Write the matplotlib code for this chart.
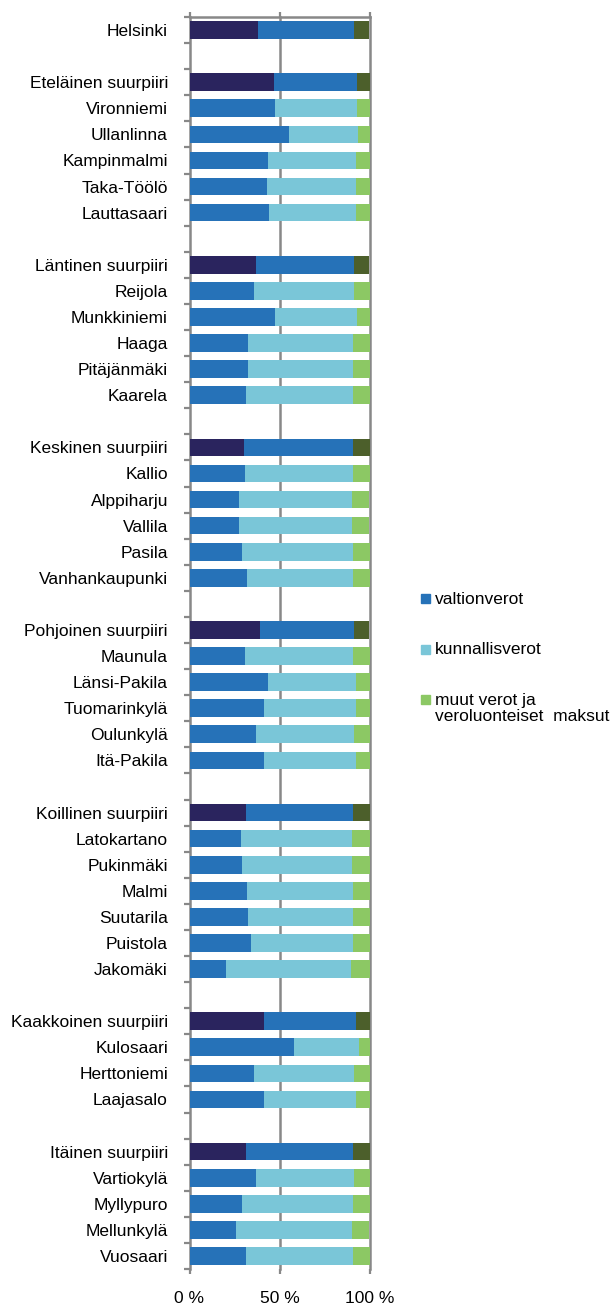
import matplotlib.pyplot as plt
from matplotlib.patches import Rectangle

# Rows from top to bottom; None marks the empty slot between districts
names = [
    "Helsinki", None,
    "Eteläinen suurpiiri", "Vironniemi", "Ullanlinna", "Kampinmalmi", "Taka-Töölö", "Lauttasaari", None,
    "Läntinen suurpiiri", "Reijola", "Munkkiniemi", "Haaga", "Pitäjänmäki", "Kaarela", None,
    "Keskinen suurpiiri", "Kallio", "Alppiharju", "Vallila", "Pasila", "Vanhankaupunki", None,
    "Pohjoinen suurpiiri", "Maunula", "Länsi-Pakila", "Tuomarinkylä", "Oulunkylä", "Itä-Pakila", None,
    "Koillinen suurpiiri", "Latokartano", "Pukinmäki", "Malmi", "Suutarila", "Puistola", "Jakomäki", None,
    "Kaakkoinen suurpiiri", "Kulosaari", "Herttoniemi", "Laajasalo", None,
    "Itäinen suurpiiri", "Vartiokylä", "Myllypuro", "Mellunkylä", "Vuosaari",
]

# shares (%) for the named rows, same order as names without the gaps
valtio = [38.0,
          46.9, 47.5, 55.1, 43.4, 43.1, 44.2,
          36.9, 36.0, 47.5, 32.7, 32.7, 31.4,
          30.3, 30.8, 27.5, 27.5, 29.3, 31.9,
          39.2, 30.8, 43.6, 41.4, 36.9, 41.4,
          31.4, 28.6, 29.3, 31.9, 32.7, 34.2, 20.5,
          41.4, 57.9, 36.0, 41.4,
          31.4, 36.9, 29.3, 25.8, 31.4]
kunnallis = [53.2,
             46.2, 45.7, 38.7, 48.9, 49.2, 48.1,
             54.3, 55.6, 45.7, 58.3, 58.3, 59.6,
             60.5, 60.2, 62.8, 62.8, 61.7, 59.1,
             52.0, 60.2, 48.7, 50.9, 54.7, 50.9,
             59.4, 61.9, 61.2, 59.1, 58.3, 56.8, 69.2,
             51.1, 36.4, 55.6, 50.9,
             59.4, 54.7, 61.7, 64.5, 59.6]
muut = [8.8,
        6.9, 6.8, 6.2, 7.7, 7.7, 7.7,
        8.8, 8.4, 6.8, 9.0, 9.0, 9.0,
        9.2, 9.0, 9.7, 9.7, 9.0, 9.0,
        8.8, 9.0, 7.7, 7.7, 8.4, 7.7,
        9.2, 9.5, 9.5, 9.0, 9.0, 9.0, 10.3,
        7.5, 5.7, 8.4, 7.7,
        9.2, 8.4, 9.0, 9.7, 9.0]

legend_labels = ["valtionverot", "kunnallisverot", "muut verot ja\nveroluonteiset  maksut"]

colors = ["#2672b8", "#7ac6d8", "#8cc864"]
colors_total = ["#2a245e", "#2672b8", "#4c5f2b"]
grey = "#888888"

plt.rcParams["font.family"] = ["Liberation Sans", "DejaVu Sans"]

fig = plt.figure(figsize=(6.13, 13.05), dpi=100)
ax = fig.add_axes([189.5 / 613, 36 / 1305, 180 / 613, 1252 / 1305])

ys, labels, a, b, c, cols = [], [], [], [], [], []
k = 0
for i, n in enumerate(names):
    if n is None:
        continue
    ys.append(i)
    labels.append(n)
    a.append(valtio[k])
    b.append(kunnallis[k])
    c.append(muut[k])
    total = n == "Helsinki" or n.endswith("suurpiiri")
    cols.append(colors_total if total else colors)
    k += 1

h = 0.68
left = [0] * len(ys)
for vals, j in ((a, 0), (b, 1), (c, 2)):
    ax.barh(ys, vals, left=left, height=h, color=[cc[j] for cc in cols], zorder=3)
    left = [l + v for l, v in zip(left, vals)]

ax.set_xlim(0, 100)
ax.set_ylim(len(names) - 0.5, -0.5)

ax.set_yticks(ys)
ax.set_yticklabels(labels, fontsize=12.5)
ax.set_yticks([i - 0.5 for i in range(len(names) + 1)], minor=True)
ax.tick_params(axis="y", which="major", length=0, pad=15.5)
ax.tick_params(axis="y", which="minor", length=4, width=1.6, color=grey)

ax.set_xticks([0, 50, 100])
ax.set_xticklabels(["0 %", "50 %", "100 %"], fontsize=12.5)
ax.tick_params(axis="x", which="major", length=3.5, width=1.6, color=grey,
               top=True, bottom=True, pad=12)
ax.xaxis.grid(True, color=grey, linewidth=1.8, zorder=0)
for gl in ax.get_xgridlines():
    gl.set_clip_on(False)
ax.set_axisbelow(True)

for s in ["left", "right", "bottom"]:
    ax.spines[s].set_visible(False)
ax.spines["top"].set_color(grey)
ax.spines["top"].set_linewidth(1.8)

# legend drawn by hand to keep the wide spacing
leg_y = [599, 649, 699]
text_y = [599, 649, 708.5]
for lab, col, y, ty in zip(legend_labels, colors, leg_y, text_y):
    fig.add_artist(Rectangle((421 / 613, (1305 - y - 4.5) / 1305), 9 / 613, 9 / 1305,
                             transform=fig.transFigure, color=col))
    fig.text(435 / 613, (1305 - ty) / 1305, lab, fontsize=12.5,
             va="center", ha="left", linespacing=1.1)

fig.savefig("out.png", dpi=100)
